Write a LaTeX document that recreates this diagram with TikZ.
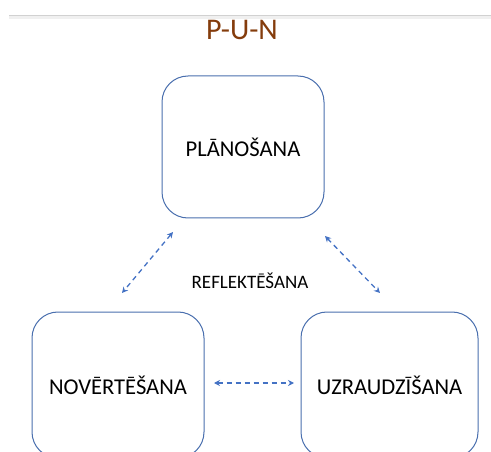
\documentclass[tikz,border=0pt]{standalone}
\usepackage{fontspec}
\setmainfont{Carlito}
\usetikzlibrary{arrows.meta}
\definecolor{boxline}{HTML}{4A6FAE}
\definecolor{arrowblue}{HTML}{4472C4}
\definecolor{titlebrown}{HTML}{843C0C}
\tikzset{
  stagebox/.style={draw=boxline, line width=1pt, rounded corners=26pt, fill=none, font=\fontsize{22.6}{26}\selectfont, inner sep=0pt},
  dasharrow/.style={draw=arrowblue, line width=1.3pt, dash pattern=on 5pt off 4pt, {Stealth[length=6pt,width=6pt]}-{Stealth[length=6pt,width=6pt]}}
}
\begin{document}
\begin{tikzpicture}[x=1pt,y=-1pt]
\useasboundingbox (0,0) rectangle (491,452);
\clip (0,0) rectangle (491,452);
% top rule
\fill[black!6] (9,16.5) rectangle (491,19.5);
\draw[black!18, line width=1pt] (9,16) -- (491,16);
\node[text=titlebrown, font=\fontsize{30}{34}\selectfont] (title) at (242,30) {P-U-N};
\node[stagebox, minimum width=162pt, minimum height=142pt] (plan) at (243,147) {PLĀNOŠANA};
\node[stagebox, minimum width=172pt, minimum height=146pt] (nov) at (118,385) {NOVĒRTĒŠANA};
\node[stagebox, minimum width=177pt, minimum height=146pt] (uzr) at (389.5,385) {UZRAUDZĪŠANA};
\node[font=\fontsize{19}{22}\selectfont] (refl) at (250,281) {REFLEKTĒŠANA};
\coordinate (a1) at (173,232);
\coordinate (a2) at (122,293);
\coordinate (b1) at (325,236);
\coordinate (b2) at (380,293);
\coordinate (c1) at (214,383);
\coordinate (c2) at (294,383);
\draw[dasharrow] (a1) -- (a2);
\draw[dasharrow] (b1) -- (b2);
\draw[dasharrow] (c1) -- (c2);
\end{tikzpicture}
\end{document}
